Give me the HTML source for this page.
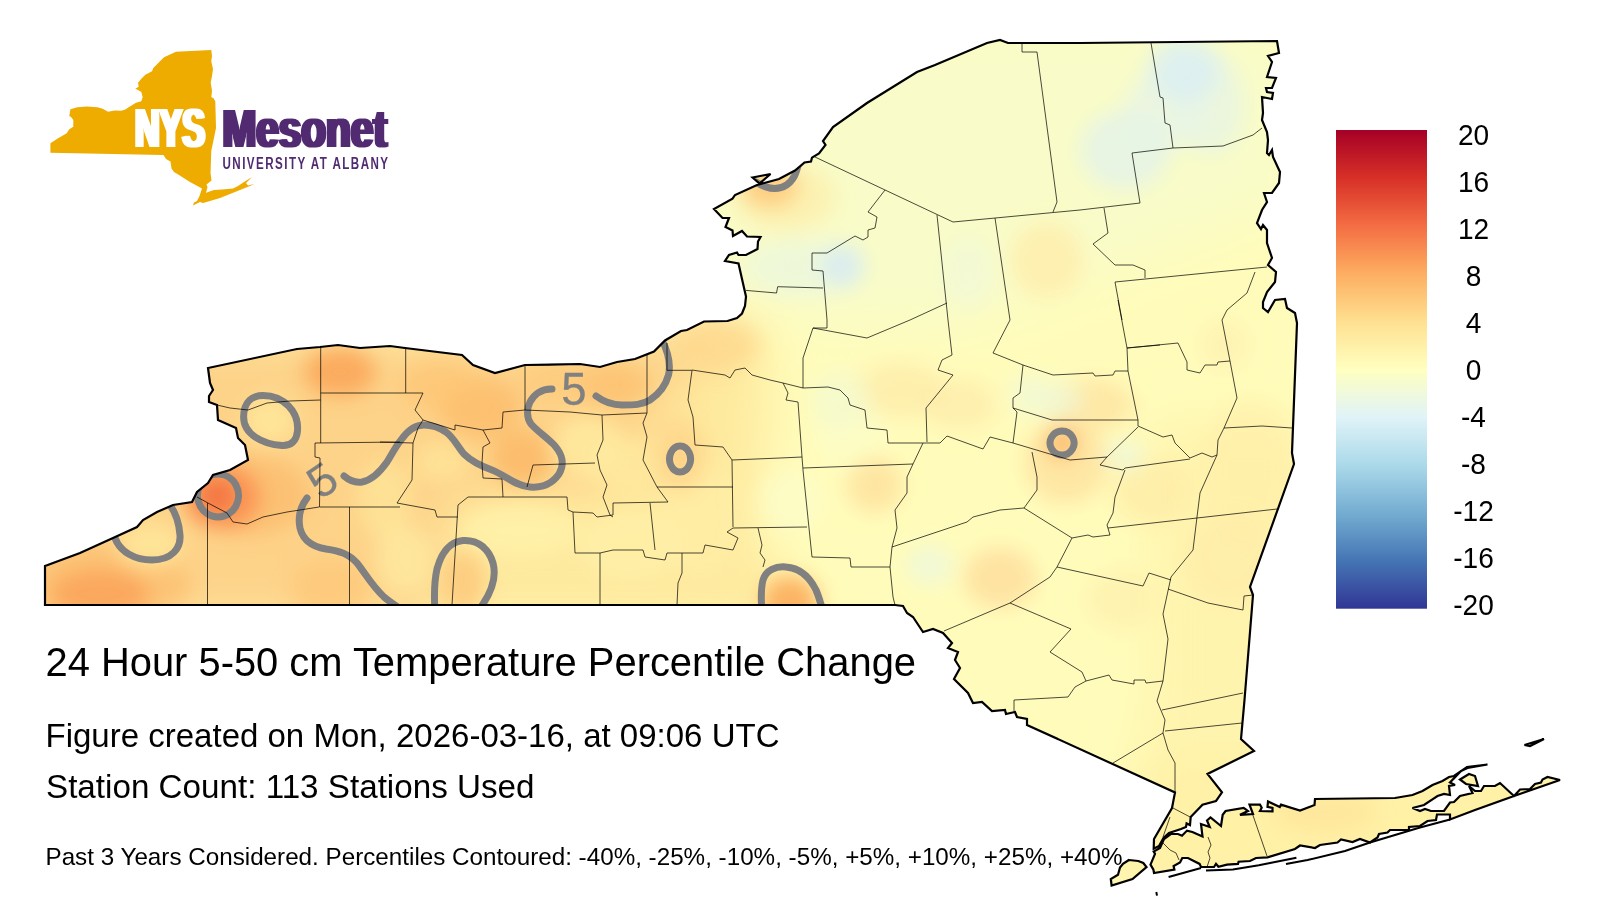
<!DOCTYPE html>
<html lang="en"><head><meta charset="utf-8"><title>24 Hour 5-50 cm Temperature Percentile Change</title>
<style>
html,body{margin:0;padding:0;background:#fff;}
body{width:1600px;height:900px;overflow:hidden;font-family:"Liberation Sans",sans-serif;}
svg{display:block;}
text{font-family:"Liberation Sans",sans-serif;}
</style></head><body>
<svg width="1600" height="900" viewBox="0 0 1600 900">
<defs>
<clipPath id="ny"><path d="M45,605 L45,566 L80,553 L113,538 L137,527 L143,520 L157,512 L173,505 L192,502 L197,492 L208,483 L213,475 L230,470 L248,460 L245,445 L238,438 L236,428 L218,420 L217,405 L209,402 L209,396 L213,390 L210,383 L208,368 L297,349 L320,347 L338,345 L360,348 L390,346 L405,348 L462,355 L473,365 L495,373 L525,365 L580,364 L600,367 L617,362 L635,359 L654,351.5 L665,340.5 L681,331 L687,330 L704,321.5 L727.5,321 L737,318 L742,313.5 L745,306 L746,296.5 L742,279 L738.5,263.5 L725,261 L729,255 L737,252.5 L738.5,255 L746,255 L757.5,249 L758,241.5 L760.5,237 L747,236.5 L742,231 L733,236 L732.5,230.5 L725.5,227 L729,218 L722.5,218 L714,209 L732.5,198.7 L735,195 L757,185 L779,179 L795,170.5 L804.5,162.5 L811,161.5 L812,157.6 L819,153.5 L825.5,145 L823,141 L833,127 L867,103 L917,72 L935,65 L987,43 L1000,40 L1008,43 L1080,43 L1277,41 L1279,53 L1268,56 L1272,62 L1267,77 L1276,78 L1272,88 L1266,88 L1267,92 L1273,93 L1272,99 L1262,97 L1263,113 L1262,120 L1267,132 L1268,140 L1267,153 L1269,155 L1272,150 L1273,157 L1280,172 L1279,183 L1272,193 L1264,193 L1267,202 L1262,210 L1257,223 L1261,229 L1263,225 L1267,230 L1267,243 L1272,258 L1268,265 L1276,272 L1275,282 L1267,292 L1263,302 L1263,308 L1268,312 L1275,300 L1285,299 L1287,308 L1295,313 L1297,323 L1292,453 L1294,464 L1250,587 L1253,595 L1244.5,700 L1241,739 L1254,751 L1207.5,774 L1222,792.4 L1216,801 L1202.5,804.7 L1190.7,817 L1190,825 L1186.6,823.4 L1186,827 L1181,829 L1169,833 L1163.5,838 L1159,846 L1153.7,848.7 L1154,839 L1172,808 L1175,792.4 L1027,725 L1027,719 L1017,717 L1015,712 L1006,714 L1005,710 L992,711 L982,702 L973,703 L968,693 L954,679 L960,668 L955,660 L958,652 L948,648 L952,643 L943,633 L933,629 L923,632 L913,617 L907,613 L903,606 L895,605 Z M1150.5,864.6 L1155,853.8 L1153.7,851.6 L1160,848 L1164,839 L1170.8,834 L1178,834 L1182,835.7 L1187,830.6 L1192.4,832 L1202.5,836.4 L1201,824 L1209.7,827 L1207,820.5 L1210.5,817.4 L1221,826 L1222.7,814.8 L1225.6,811 L1243.7,807.8 L1248,811 L1240,814.8 L1253,814 L1249.5,804.6 L1260,804.6 L1261.7,807.8 L1260,811 L1272.5,811.4 L1272.5,807.8 L1267.5,806.8 L1268,801.5 L1279.8,807 L1281,804.6 L1300,810.5 L1314.5,805 L1315,799 L1395,798 L1412.5,795 L1422.5,791 L1432.5,785 L1442.5,781 L1449,777 L1454,776 L1467,767 L1487.5,764.5 L1467.5,768 L1461,771 L1450,782.5 L1455,785 L1449,786 L1450,795 L1444,794 L1437.5,796 L1424,805 L1412.5,808 L1420,811 L1425,809 L1431,811 L1444,811 L1450,802.5 L1454,802 L1460,796 L1472.5,793 L1469,786 L1475,791 L1481,791 L1484,786 L1495,786 L1500,783 L1514,796 L1520,789.5 L1530,789 L1535,784 L1541,782.5 L1542.5,779.5 L1547.5,777 L1560,780 L1514,796 L1475,810 L1450,819.5 L1450,814.5 L1437,814.5 L1436,820 L1427.5,821 L1420,826 L1409,827 L1409,830 L1390,830 L1387.5,832.5 L1379,834 L1377.5,837.5 L1370,842.5 L1360,839 L1352.5,842 L1341,839.5 L1337.5,842.5 L1320,845 L1315,848 L1300,845.5 L1295,849 L1267.5,857.4 L1256,858 L1250,861 L1238.6,861.7 L1238,863.9 L1227,864.6 L1218.4,866.8 L1216,863.9 L1214,867 L1201,867 L1199.6,863.9 L1188,858 L1182.3,858 L1180,862.4 L1173.6,866 L1174.4,869.6 L1154,873 L1153.4,869.6 Z M1128.9,860 L1138.3,861 L1143.3,863 L1146.5,867 L1132.5,879 L1111.6,885.5 L1110.8,879 L1118,874.7 L1120,867.5 L1123,863.9 Z M752.5,177.5 L770.5,174 L759.5,183.5 Z M1460,779.5 L1469,774 L1475,776 L1478,786 L1466,784 Z M1524.5,745 L1544,739 L1530,746 Z"/></clipPath>
<filter id="blur" x="-5%" y="-5%" width="110%" height="110%"><feGaussianBlur stdDeviation="10"/></filter>
<filter id="fat" x="-5%" y="-5%" width="110%" height="110%"><feMorphology operator="dilate" radius="1.5 0.25"/></filter>
<filter id="blurbig" x="-5%" y="-5%" width="110%" height="110%"><feGaussianBlur stdDeviation="24"/></filter>
<linearGradient id="base" x1="45" y1="0" x2="1300" y2="0" gradientUnits="userSpaceOnUse">
<stop offset="0" stop-color="#fdc97c"/>
<stop offset="0.30" stop-color="#fdcf82"/>
<stop offset="0.46" stop-color="#fee398"/>
<stop offset="0.58" stop-color="#fff3ac"/>
<stop offset="0.68" stop-color="#fffbb9"/>
<stop offset="1" stop-color="#fff8b4"/>
</linearGradient>
<linearGradient id="cb" x1="0" y1="0" x2="0" y2="1">
<stop offset="0" stop-color="#a50026"/><stop offset="0.1" stop-color="#d73027"/><stop offset="0.2" stop-color="#f46d43"/>
<stop offset="0.3" stop-color="#fdae61"/><stop offset="0.4" stop-color="#fee090"/><stop offset="0.5" stop-color="#ffffbf"/>
<stop offset="0.6" stop-color="#e0f3f8"/><stop offset="0.7" stop-color="#abd9e9"/><stop offset="0.8" stop-color="#74add1"/>
<stop offset="0.9" stop-color="#4575b4"/><stop offset="1" stop-color="#313695"/>
</linearGradient>
</defs>
<rect width="1600" height="900" fill="#fff"/>
<g clip-path="url(#ny)">
<rect x="0" y="0" width="1600" height="900" fill="#fffcbb"/>
<g filter="url(#blurbig)">
<polygon points="20,330 640,335 700,318 740,322 720,345 668,400 640,470 590,492 450,500 432,625 20,625" fill="#fdd389" opacity="1"/>
<polygon points="700,318 760,318 770,400 755,540 820,625 432,625 450,500 590,492 640,470 668,400 720,345" fill="#feea9f" opacity="1"/>
<polygon points="1150,420 1320,420 1320,700 1300,900 1100,900 1150,700" fill="#fff4ae" opacity="1"/>
<polygon points="1150,760 1600,760 1600,900 1100,900" fill="#fff1a6" opacity="1"/>
<polygon points="800,20 1300,20 1300,200 1150,260 960,330 830,330 740,300 700,300 700,180" fill="#f9fcc8" opacity="1"/>
</g>
<g filter="url(#blur)">
<ellipse cx="100" cy="585" rx="90" ry="40" fill="#fcb768" opacity="0.6"/>
<ellipse cx="1250" cy="470" rx="45" ry="70" fill="#feeaa5" opacity="0.45"/>
<ellipse cx="250" cy="495" rx="60" ry="40" fill="#fcb465" opacity="0.6"/>
<ellipse cx="700" cy="520" rx="40" ry="60" fill="#fff0a8" opacity="0.5"/>
<ellipse cx="1230" cy="560" rx="45" ry="45" fill="#feeaa5" opacity="0.5"/>
<ellipse cx="630" cy="545" rx="50" ry="36" fill="#fff2aa" opacity="0.6"/>
<ellipse cx="1125" cy="150" rx="45" ry="40" fill="#e4f3ea" opacity="0.8"/>
<ellipse cx="1066" cy="462" rx="42" ry="42" fill="#fee3a0" opacity="0.85"/>
<ellipse cx="1210" cy="105" rx="35" ry="50" fill="#e6f4e6" opacity="0.7"/>
<ellipse cx="785" cy="197" rx="50" ry="34" fill="#feeaa2" opacity="0.6"/>
<ellipse cx="1165" cy="110" rx="40" ry="40" fill="#e6f4e8" opacity="0.7"/>
<ellipse cx="520" cy="530" rx="60" ry="26" fill="#fff2aa" opacity="0.8"/>
<ellipse cx="800" cy="268" rx="55" ry="28" fill="#eaf6e0" opacity="0.7"/>
<ellipse cx="1047" cy="260" rx="36" ry="38" fill="#feedab" opacity="0.85"/>
<ellipse cx="850" cy="432" rx="36" ry="36" fill="#fbfdca" opacity="0.6"/>
<ellipse cx="1150" cy="492" rx="40" ry="32" fill="#feeaa4" opacity="0.6"/>
<ellipse cx="480" cy="408" rx="42" ry="30" fill="#fcbb6c" opacity="0.8"/>
<ellipse cx="900" cy="390" rx="45" ry="28" fill="#feeaa6" opacity="0.7"/>
<ellipse cx="222" cy="497" rx="38" ry="32" fill="#f98f50" opacity="0.9"/>
<ellipse cx="588" cy="447" rx="38" ry="32" fill="#fee99d" opacity="0.9"/>
<ellipse cx="100" cy="594" rx="50" ry="24" fill="#fba45b" opacity="0.9"/>
<ellipse cx="330" cy="590" rx="40" ry="30" fill="#fdc676" opacity="0.7"/>
<ellipse cx="1185" cy="70" rx="36" ry="32" fill="#dceff2" opacity="0.9"/>
<ellipse cx="385" cy="500" rx="28" ry="40" fill="#fee79a" opacity="0.7"/>
<ellipse cx="1092" cy="405" rx="42" ry="26" fill="#fee3a0" opacity="0.8"/>
<ellipse cx="1000" cy="578" rx="36" ry="30" fill="#fee0a0" opacity="0.9"/>
<ellipse cx="625" cy="465" rx="38" ry="28" fill="#feea9f" opacity="0.8"/>
<ellipse cx="680" cy="455" rx="28" ry="38" fill="#fdd68b" opacity="0.75"/>
<ellipse cx="405" cy="560" rx="30" ry="35" fill="#feeaa0" opacity="0.8"/>
<ellipse cx="1120" cy="600" rx="35" ry="30" fill="#feeca8" opacity="0.5"/>
<ellipse cx="440" cy="385" rx="40" ry="25" fill="#fdc474" opacity="0.7"/>
<ellipse cx="1325" cy="812" rx="50" ry="20" fill="#fee59a" opacity="0.8"/>
<ellipse cx="720" cy="345" rx="40" ry="25" fill="#fdd58a" opacity="0.7"/>
<ellipse cx="960" cy="405" rx="38" ry="26" fill="#feeaa8" opacity="0.65"/>
<ellipse cx="790" cy="500" rx="30" ry="32" fill="#fcfdc8" opacity="0.8"/>
<ellipse cx="968" cy="272" rx="26" ry="36" fill="#eef8dc" opacity="0.55"/>
<ellipse cx="840" cy="400" rx="30" ry="30" fill="#f4fad0" opacity="0.7"/>
<ellipse cx="523" cy="458" rx="32" ry="28" fill="#fcb869" opacity="0.85"/>
<ellipse cx="340" cy="372" rx="36" ry="24" fill="#fba95d" opacity="0.95"/>
<ellipse cx="612" cy="385" rx="38" ry="22" fill="#fdc171" opacity="0.8"/>
<ellipse cx="560" cy="380" rx="40" ry="20" fill="#fdc878" opacity="0.6"/>
<ellipse cx="875" cy="485" rx="28" ry="28" fill="#fee3a0" opacity="0.9"/>
<ellipse cx="463" cy="582" rx="24" ry="32" fill="#fdcb7e" opacity="0.9"/>
<ellipse cx="790" cy="602" rx="28" ry="26" fill="#fcb364" opacity="1"/>
<ellipse cx="150" cy="545" rx="32" ry="22" fill="#fee79a" opacity="0.9"/>
<ellipse cx="1225" cy="345" rx="25" ry="25" fill="#feefae" opacity="0.7"/>
<ellipse cx="270" cy="420" rx="26" ry="24" fill="#fee79a" opacity="0.9"/>
<ellipse cx="442" cy="462" rx="28" ry="20" fill="#fee498" opacity="0.85"/>
<ellipse cx="770" cy="187" rx="28" ry="20" fill="#fdcd80" opacity="1"/>
<ellipse cx="842" cy="266" rx="22" ry="22" fill="#d8ecf2" opacity="0.9"/>
<ellipse cx="930" cy="565" rx="24" ry="20" fill="#eef8dc" opacity="0.8"/>
<ellipse cx="1030" cy="395" rx="20" ry="22" fill="#f0f8d8" opacity="0.7"/>
<ellipse cx="1060" cy="400" rx="22" ry="18" fill="#eef8dc" opacity="0.7"/>
<ellipse cx="1062" cy="443" rx="17" ry="17" fill="#fcc074" opacity="1"/>
<ellipse cx="1125" cy="455" rx="20" ry="14" fill="#eef8dc" opacity="0.8"/>
<ellipse cx="217" cy="496" rx="14" ry="14" fill="#f0683c" opacity="0.95"/>
<ellipse cx="680" cy="459" rx="10" ry="12" fill="#fdca7e" opacity="0.9"/>
</g>
<path d="M243.6,417 C243.6,401 253,395.4 263,395.4 C284,395.4 299,412 297.5,431 C296.5,442 290,446 282,445.5 C262,444 243.6,434 243.6,417 Z M218,474 a20.5,21.5 0 1,0 0.1,0 Z M115,538 C120,552 135,560 152,560 C172,560 181,548 180,535 C179,522 175,512 170,505 M307,498 C300,507 298,518 300,528 C303,541 314,547 326,549 C340,551 349,554 357,563 C365,573 372,586 384,597 C390,602 396,606 402,610 M344,476 C350,481 356,483 362,482 C372,480 380,472 387,462 C392,454 396,446 401,440 C408,430 416,425 424,425 C434,425 440,428 446,432 C454,438 458,447 464,454 C472,462 481,466 492,470 C505,475 515,486 530,487 C542,488 552,484 559,474 C565,464 562,454 555,446 C548,438 538,432 531,424 C526,417 527,408 530,402 C535,393 543,389 552,389 M596,396 C604,402 612,405 622,405 C634,405 642,405 650,400 C659,394 665.5,386 668.5,375 C671,364 668,352 662,340 M680,446 a10.5,13 0 1,0 0.1,0 Z M1062,431 a12,12 0 1,0 0.1,0 Z M435,612 C434,596 434,582 437,569 C441,554 449,542 463,540.5 C478,539.5 489,549 493,563 C497,578 491,592 483,604 C481,607 479,610 477,613 M762,612 C761,600 761,588 763,580 C766,570 776,566 786,567 C800,568 810,578 816,590 C819,597 821,604 823,612 M756,182 C762,186 768,188.5 775,188.5 C784,188.5 790.5,183 794.5,176 C796.5,172 797.5,168 798.5,164" fill="none" stroke="#808080" stroke-width="7.0" stroke-linecap="round" stroke-linejoin="round"/>
<text x="322" y="496" font-size="45.5" stroke="#808080" stroke-width="0.3" fill="#808080" text-anchor="middle" transform="rotate(-34 322 480)">5</text>
<text x="574" y="405" font-size="45.5" stroke="#808080" stroke-width="0.3" fill="#808080" text-anchor="middle">5</text>
<path d="M320.7,347 L320.7,443 M320.7,393 L423,393 M217,405 L230,408 L248,410 L267,403 L290,401 L320.7,400 M400,442 L315,443 L315,457 L320,458 L319.5,507 L400,507 M197,497 L208,503 L227,513 L233,522 L247,524 L263,517 L287,512 L319,507 M207.5,503 L207.5,605 M349.5,507 L349.5,605 M405.7,348 L405.7,393 M423,393 L415,410 L423,420 L418,428 L413,443 M380,442 L413,443 L412,480 L397,503 L435,510 L437,517 L458,517 M458,505 L452,605 M458,505 L468,497 L567,497 L568,510 L573,512 L575,553 L600,553 L600,605 M525,365 L525,410 M423,420 L455,430 L455,425 L483,430 L490,443 L483,447 L482,463 L483,478 L502,479 L503,497 M483,430 L502,428 L503,412 L525,410 L570,412 L602,415 L647,413 M602,415 L603,440 L597,455 L600,470 L607,485 L603,497 L610,515 L613,517 M527,487 L533,465 L595,463 M573,512 L593,513 L597,517 L613,515 L613,503 L668,502 M647,350 L647,413 L643,423 L647,437 L643,460 L657,487 L668,502 M657,487 L733,487 M667,343 L667,370.3 L692,370.3 L688,400 L693,417 L695,445 L723,447 L732,460 L733,527 M732,460 L780,458 L802,457 M692,370 L725,375 L730,378 L735,370 L745,368 L752,375 L770,380 L783,383 M600,553 L613,550 L643,550 L645,557 L665,560 L667,553 L682,553 L682,573 L678,583 L677,605 M650,503 L655,550 M682,553 L703,553 L705,545 L733,550 L738,538 L727,532 L733,528 L807,527 M758,528 L762,545 L760,553 L765,560 L763,567 M783,383 L788,393 L786,400 L798,402 L802,457 L803,470 L812,557 L850,558 L851,567 L890,567 M783,383 L803,388 L828,387 L840,390 L848,398 L850,405 L865,410 L867,428 L887,430 L888,443 L923,443 M803,388 L803,358 L813,328 L867,338 L910,320 M813,328 L827,328 L827,320 M803,468 L913,464 M923,443 L913,464 L907,477 L907,493 L895,510 L897,528 L892,547 L890,567 L893,597 L895,605 M923,443 L940,443 L947,436 L983,449 L990,437 L1013,443 L1070,460 L1107,457 L1138,427 M927,442 L926,408 L953,375 L938,370 L942,360 L952,355 L948,320 M1013,443 L1017,412 L1013,408 L1013,398 L1020,393 L1023,365 L993,353 L1010,320 M1023,365 L1053,375 L1093,373 L1095,376 L1113,375 L1115,371 L1128,371 L1138,420 M1128,371 L1127,348 L1118,300 M1013,408 L1052,420 L1138,420 L1138,426 M1107,457 L1100,465 L1113,468 L1123,470 L1125,468 L1190,459 M1032,452 L1037,477 L1037,490 L1024,508 L1072,538 L1088,535 L1093,537 L1110,535 L1107,525 L1113,513 L1115,497 L1125,470 M892,547 L967,522 L973,517 L1000,510 L1024,508 M1072,538 L1057,567 L1143,586 L1149,573 L1171,580 M1057,567 L1050,577 L1010,603 L944,631 M1010,603 L1071,629 L1050,652 L1082,672 L1086,681 M1014,711 L1014,700 L1068,697 L1075,687 L1086,681 L1109,675 L1112,680 L1134,684 L1134,680 L1145,680 L1146,683 L1163,681 M1224,428 L1218,440 L1217,455 L1200,493 L1197,517 L1193,550 L1171,577 L1163,614 L1168,639 L1163,681 L1157,701 L1165,720 L1163,733 L1168,750 L1175,763 L1175,792.4 M1108,528 L1197,518 L1277,509 M1168,589 L1208,603 L1243,610 L1244,596 L1253,595 M1162,710 L1243,693 M1165,731 L1242,723 M1113,763 L1163,733 M1173,808 L1192,818 M1170,817 L1163,837 M1208,837 L1211,845 L1208,852 L1210,858 L1207,867 M1163,843 L1170,850 L1176,853 L1179,860 M1252.5,814 L1267,856 M815,157 L953,222 L1080,210 L1140,203 M1022,43 L1022,52 L1037,52 L1057,202 L1053,212 M885,190 L868,212 L877,217 L875,228 L868,230 L868,237 L863,240 L855,236 L827,253 L812,253 L812,270 L823,271 L827,320 M746,290.4 L776.5,293 L777.7,286.7 L823,288 M937,215 L948,320 M995,218 L1010,320 M910,320 L947,303 M1151,43 L1160,97 L1163,98 L1165,123 L1170,125 L1173,148 M1132,153 L1173,148 L1223,146 L1253,135 L1262,128 M1132,153 L1140,203 M1104,208 L1108,233 L1093,244 L1115,265 L1133,265 L1145,270 L1145,278 M1115,282 L1267,267 M1115,282 L1122,320 M1255,272 L1247,293 L1227,310 L1222,320 L1230,361 L1237,398 L1224,428 L1262,426 L1292,428 M1127,348 L1178,343 L1187,362 L1187,370 L1200,373 L1205,365 L1217,365 L1218,362 L1230,361 M1138,426 L1163,437 L1172,435 L1175,443 L1190,458 L1202,453 L1212,457 L1217,455 M1127,348 L1160,345" fill="none" stroke="#000" stroke-width="0.75" stroke-opacity="0.95"/>
</g>
<path d="M45,605 L45,566 L80,553 L113,538 L137,527 L143,520 L157,512 L173,505 L192,502 L197,492 L208,483 L213,475 L230,470 L248,460 L245,445 L238,438 L236,428 L218,420 L217,405 L209,402 L209,396 L213,390 L210,383 L208,368 L297,349 L320,347 L338,345 L360,348 L390,346 L405,348 L462,355 L473,365 L495,373 L525,365 L580,364 L600,367 L617,362 L635,359 L654,351.5 L665,340.5 L681,331 L687,330 L704,321.5 L727.5,321 L737,318 L742,313.5 L745,306 L746,296.5 L742,279 L738.5,263.5 L725,261 L729,255 L737,252.5 L738.5,255 L746,255 L757.5,249 L758,241.5 L760.5,237 L747,236.5 L742,231 L733,236 L732.5,230.5 L725.5,227 L729,218 L722.5,218 L714,209 L732.5,198.7 L735,195 L757,185 L779,179 L795,170.5 L804.5,162.5 L811,161.5 L812,157.6 L819,153.5 L825.5,145 L823,141 L833,127 L867,103 L917,72 L935,65 L987,43 L1000,40 L1008,43 L1080,43 L1277,41 L1279,53 L1268,56 L1272,62 L1267,77 L1276,78 L1272,88 L1266,88 L1267,92 L1273,93 L1272,99 L1262,97 L1263,113 L1262,120 L1267,132 L1268,140 L1267,153 L1269,155 L1272,150 L1273,157 L1280,172 L1279,183 L1272,193 L1264,193 L1267,202 L1262,210 L1257,223 L1261,229 L1263,225 L1267,230 L1267,243 L1272,258 L1268,265 L1276,272 L1275,282 L1267,292 L1263,302 L1263,308 L1268,312 L1275,300 L1285,299 L1287,308 L1295,313 L1297,323 L1292,453 L1294,464 L1250,587 L1253,595 L1244.5,700 L1241,739 L1254,751 L1207.5,774 L1222,792.4 L1216,801 L1202.5,804.7 L1190.7,817 L1190,825 L1186.6,823.4 L1186,827 L1181,829 L1169,833 L1163.5,838 L1159,846 L1153.7,848.7 L1154,839 L1172,808 L1175,792.4 L1027,725 L1027,719 L1017,717 L1015,712 L1006,714 L1005,710 L992,711 L982,702 L973,703 L968,693 L954,679 L960,668 L955,660 L958,652 L948,648 L952,643 L943,633 L933,629 L923,632 L913,617 L907,613 L903,606 L895,605 Z M1150.5,864.6 L1155,853.8 L1153.7,851.6 L1160,848 L1164,839 L1170.8,834 L1178,834 L1182,835.7 L1187,830.6 L1192.4,832 L1202.5,836.4 L1201,824 L1209.7,827 L1207,820.5 L1210.5,817.4 L1221,826 L1222.7,814.8 L1225.6,811 L1243.7,807.8 L1248,811 L1240,814.8 L1253,814 L1249.5,804.6 L1260,804.6 L1261.7,807.8 L1260,811 L1272.5,811.4 L1272.5,807.8 L1267.5,806.8 L1268,801.5 L1279.8,807 L1281,804.6 L1300,810.5 L1314.5,805 L1315,799 L1395,798 L1412.5,795 L1422.5,791 L1432.5,785 L1442.5,781 L1449,777 L1454,776 L1467,767 L1487.5,764.5 L1467.5,768 L1461,771 L1450,782.5 L1455,785 L1449,786 L1450,795 L1444,794 L1437.5,796 L1424,805 L1412.5,808 L1420,811 L1425,809 L1431,811 L1444,811 L1450,802.5 L1454,802 L1460,796 L1472.5,793 L1469,786 L1475,791 L1481,791 L1484,786 L1495,786 L1500,783 L1514,796 L1520,789.5 L1530,789 L1535,784 L1541,782.5 L1542.5,779.5 L1547.5,777 L1560,780 L1514,796 L1475,810 L1450,819.5 L1450,814.5 L1437,814.5 L1436,820 L1427.5,821 L1420,826 L1409,827 L1409,830 L1390,830 L1387.5,832.5 L1379,834 L1377.5,837.5 L1370,842.5 L1360,839 L1352.5,842 L1341,839.5 L1337.5,842.5 L1320,845 L1315,848 L1300,845.5 L1295,849 L1267.5,857.4 L1256,858 L1250,861 L1238.6,861.7 L1238,863.9 L1227,864.6 L1218.4,866.8 L1216,863.9 L1214,867 L1201,867 L1199.6,863.9 L1188,858 L1182.3,858 L1180,862.4 L1173.6,866 L1174.4,869.6 L1154,873 L1153.4,869.6 Z M1128.9,860 L1138.3,861 L1143.3,863 L1146.5,867 L1132.5,879 L1111.6,885.5 L1110.8,879 L1118,874.7 L1120,867.5 L1123,863.9 Z M752.5,177.5 L770.5,174 L759.5,183.5 Z M1460,779.5 L1469,774 L1475,776 L1478,786 L1466,784 Z M1524.5,745 L1544,739 L1530,746 Z" fill="none" stroke="#000" stroke-width="2.2" stroke-linejoin="miter" stroke-miterlimit="3"/>
<path d="M1168.6,877 L1201,868 M1206,870.4 L1232.9,869.6 L1258.8,865.3 L1296.4,857.8 M1286,864 L1307.5,860 L1345,851 L1370,842.5 L1420,827.5 L1450,819.5 M1156.3,892 L1157,895.6" fill="none" stroke="#000" stroke-width="2"/>
<!-- colorbar -->
<rect x="1336" y="130" width="91" height="478.7" fill="url(#cb)"/>
<text transform="translate(1473.5 145.3) scale(0.955 1)" text-anchor="middle" font-size="29.4">20</text>
<text transform="translate(1473.5 192.2) scale(0.955 1)" text-anchor="middle" font-size="29.4">16</text>
<text transform="translate(1473.5 239.2) scale(0.955 1)" text-anchor="middle" font-size="29.4">12</text>
<text transform="translate(1473.5 286.1) scale(0.955 1)" text-anchor="middle" font-size="29.4">8</text>
<text transform="translate(1473.5 333.0) scale(0.955 1)" text-anchor="middle" font-size="29.4">4</text>
<text transform="translate(1473.5 379.9) scale(0.955 1)" text-anchor="middle" font-size="29.4">0</text>
<text transform="translate(1473.5 426.9) scale(0.955 1)" text-anchor="middle" font-size="29.4">-4</text>
<text transform="translate(1473.5 473.8) scale(0.955 1)" text-anchor="middle" font-size="29.4">-8</text>
<text transform="translate(1473.5 520.7) scale(0.955 1)" text-anchor="middle" font-size="29.4">-12</text>
<text transform="translate(1473.5 567.7) scale(0.955 1)" text-anchor="middle" font-size="29.4">-16</text>
<text transform="translate(1473.5 614.6) scale(0.955 1)" text-anchor="middle" font-size="29.4">-20</text>
<!-- logo -->
<path d="M50.4,143.3 L57.3,138.7 L66.7,133.3 L69.3,129.3 L73.3,126.7 L73.3,120 L71.3,117.3 L69.3,116 L70.4,109.3 L77.3,107.3 L86.7,106.4 L97.3,107.3 L102.7,108.7 L108,111.7 L114.7,110.4 L121.3,110.7 L125.3,109.6 L130.7,106 L136,102.7 L141.3,101.3 L142.7,97.3 L141.3,92 L138,90 L135.3,88.7 L138.7,86.7 L138,82.7 L141.3,78.7 L145.3,74.7 L152,71.3 L153.3,68 L164,57.3 L176,51.7 L211.3,50 L212,56 L211.3,61.3 L213,69.3 L212,76 L210.7,82.7 L212,90.7 L211.3,97.3 L213.3,98 L215.3,101.3 L216,128 L213.3,141.3 L211.3,150.7 L210.5,173 L211.5,180.5 L206.5,184.5 L207.5,187 L206,193 L208,192 L214,190 L222,189.5 L233,188.5 L238,186 L244,182 L252,177 L246,183 L248,185.5 L254.5,184 L250,186 L240,190 L230,194 L220,198 L210,201 L203,203 L200,202 L196,204 L193,205.5 L194,202.5 L197,201 L199.5,196 L202,188.5 L190,182 L179,175 L174,172 L171.5,168.5 L170.5,161.5 L166,159 L163.5,155 L162.7,155 L50.4,152.7 Z" fill="#eeab00"/>
<g font-weight="bold" filter="url(#fat)">
<text transform="translate(134.9 147.4) scale(0.635 1)" font-size="55.3" fill="#fff" textLength="110.5" lengthAdjust="spacingAndGlyphs">NYS</text>
<text transform="translate(222.4 147.4) scale(0.70 1)" font-size="54.3" fill="#512b71" textLength="235" lengthAdjust="spacingAndGlyphs">Mesonet</text>
</g>
<g font-weight="bold">
<text transform="translate(222.5 168.5) scale(0.70 1)" font-size="16.6" fill="#512b71" textLength="236.5" lengthAdjust="spacing">UNIVERSITY AT ALBANY</text>
</g>
<!-- captions -->
<text x="45.5" y="676" font-size="40.8" textLength="870.5" lengthAdjust="spacingAndGlyphs">24 Hour 5-50 cm Temperature Percentile Change</text>
<text x="45.5" y="746.5" font-size="33" textLength="734" lengthAdjust="spacingAndGlyphs">Figure created on Mon, 2026-03-16, at 09:06 UTC</text>
<text x="46" y="797.5" font-size="33" textLength="488.5" lengthAdjust="spacingAndGlyphs">Station Count: 113 Stations Used</text>
<text x="45.5" y="865.3" font-size="24.2" textLength="1077" lengthAdjust="spacingAndGlyphs">Past 3 Years Considered. Percentiles Contoured: -40%, -25%, -10%, -5%, +5%, +10%, +25%, +40%</text>
</svg>
</body></html>
